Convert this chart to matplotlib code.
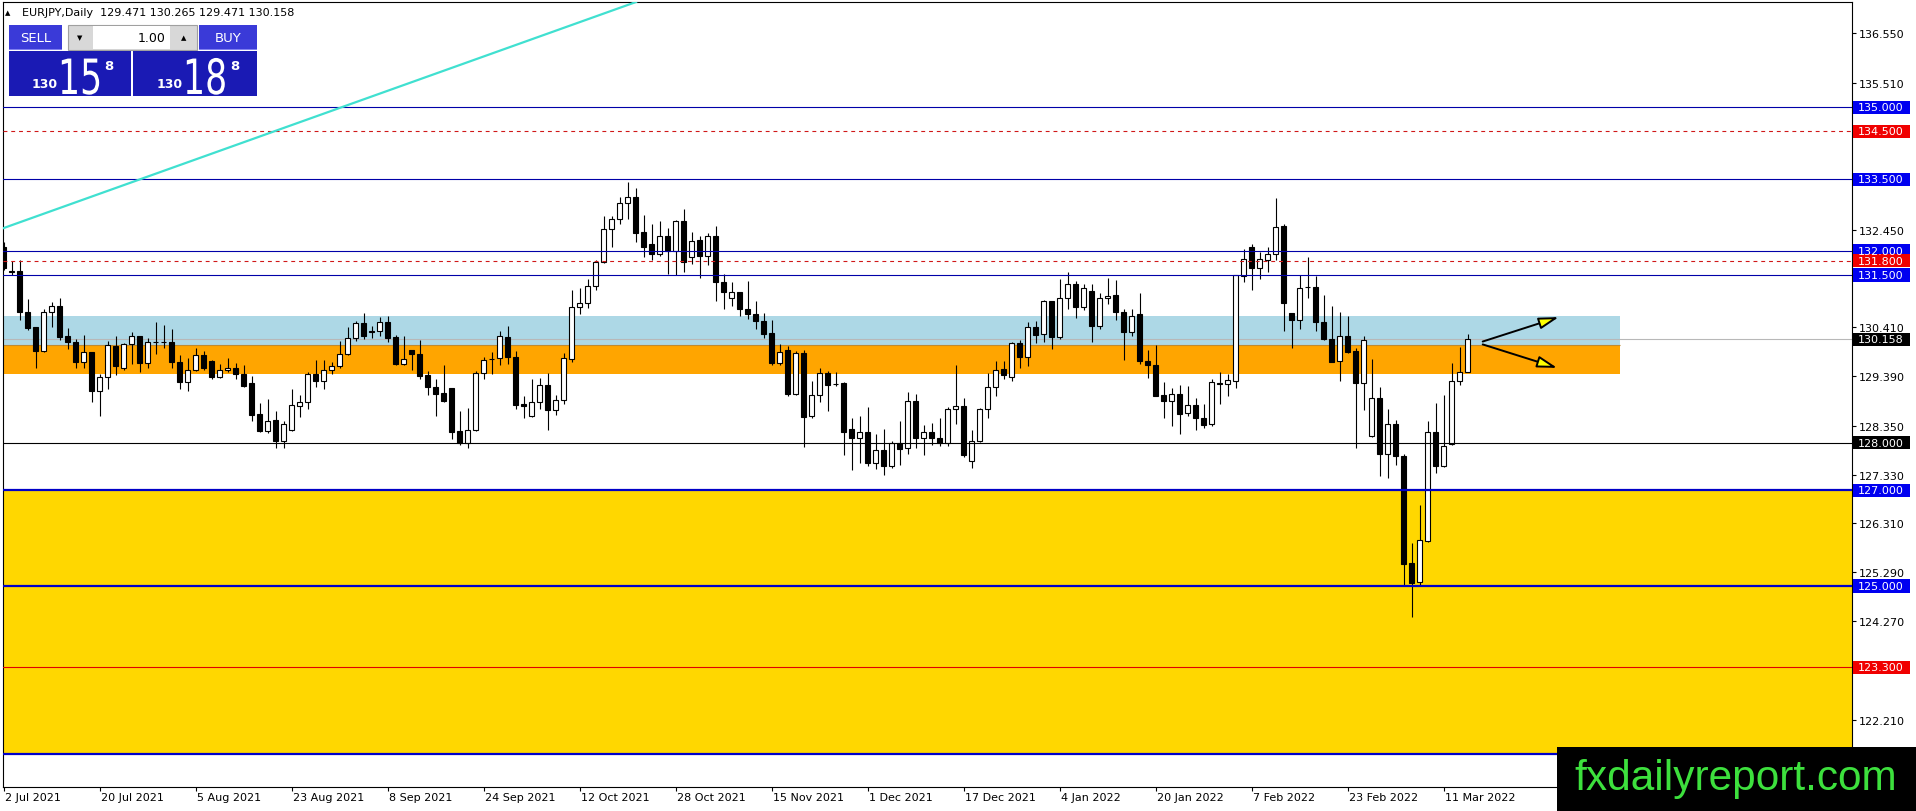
"""
EURJPY daily candles with support / resistance levels and zones,
drawn the way the MT4 terminal shows them.
"""
import numpy as np
import matplotlib
matplotlib.use("Agg")
import matplotlib.pyplot as plt
from matplotlib.patches import Rectangle
from matplotlib.transforms import blended_transform_factory, ScaledTranslation, Affine2D
from matplotlib import patheffects

W, H = 1916, 812

# daily OHLC, 2 Jul 2021 .. 16 Mar 2022
opens = [
    132.08, 131.57, 131.58, 130.72, 130.41, 129.92, 130.72, 130.85, 130.22, 130.11,
    129.68, 129.89, 129.07, 129.36, 130.01, 129.56, 130.05, 130.22, 129.66, 130.09,
    130.10, 130.09, 129.68, 129.27, 129.52, 129.83, 129.70, 129.36, 129.51, 129.55,
    129.44, 129.24, 128.59, 128.25, 128.47, 128.04, 128.27, 128.77, 128.84, 129.43,
    129.29, 129.51, 129.59, 129.84, 130.18, 130.50, 130.32, 130.32, 130.51, 130.20,
    129.64, 129.93, 129.85, 129.41, 129.17, 129.04, 129.14, 128.24, 128.00, 128.26,
    129.45, 129.74, 129.76, 130.20, 129.78, 128.80, 128.55, 128.84, 129.20, 128.69,
    128.88, 129.75, 130.83, 130.91, 131.26, 131.77, 132.46, 132.66, 133.00, 133.12,
    132.39, 132.14, 131.93, 132.31, 132.00, 132.62, 131.87, 132.23, 131.89, 132.32,
    131.36, 131.01, 131.14, 130.80, 130.69, 130.53, 130.29, 129.66, 129.93, 129.01,
    129.87, 128.56, 129.00, 129.45, 129.22, 129.24, 128.28, 128.10, 128.23, 127.57,
    127.84, 127.50, 128.00, 127.88, 128.87, 128.10, 128.23, 128.09, 128.00, 128.71,
    128.77, 127.62, 128.04, 128.70, 129.15, 129.54, 129.36, 130.07, 129.78, 130.41,
    130.26, 130.95, 130.21, 131.01, 131.31, 130.83, 131.16, 130.43, 131.01, 131.08,
    130.72, 130.30, 130.69, 129.70, 129.62, 128.99, 128.86, 129.01, 128.61, 128.78,
    128.51, 128.38, 129.245, 129.22, 129.29, 131.47, 132.09, 131.64, 131.82, 131.94,
    132.53, 130.71, 130.57, 131.24, 131.24, 130.51, 130.16, 129.70, 130.23, 129.92,
    129.24, 128.13, 128.94, 127.77, 128.39, 127.71, 125.48, 125.08, 125.95, 128.23,
    127.52, 127.96, 129.28, 129.471,
]
highs = [
    132.18, 131.80, 131.81, 131.00, 130.42, 130.80, 130.93, 131.03, 130.39, 130.16,
    130.25, 129.90, 129.43, 130.13, 130.23, 130.07, 130.30, 130.23, 130.18, 130.51,
    130.46, 130.37, 129.83, 129.76, 129.97, 129.92, 129.73, 129.64, 129.76, 129.66,
    129.62, 129.38, 128.82, 128.91, 128.66, 128.46, 129.11, 128.99, 129.48, 129.73,
    129.72, 129.69, 130.13, 130.41, 130.53, 130.71, 130.43, 130.62, 130.65, 130.25,
    130.22, 129.94, 130.14, 129.50, 129.33, 129.62, 129.14, 128.66, 128.72, 129.50,
    129.79, 129.89, 130.32, 130.44, 129.91, 128.98, 129.33, 129.34, 129.45, 128.99,
    129.87, 131.19, 131.23, 131.42, 131.82, 132.73, 132.73, 133.14, 133.45, 133.31,
    132.75, 132.57, 132.63, 132.48, 132.65, 132.88, 132.39, 132.32, 132.38, 132.52,
    131.52, 131.36, 131.14, 131.38, 130.95, 130.71, 130.56, 130.06, 130.02, 129.91,
    129.94, 129.29, 129.55, 129.50, 129.47, 129.27, 128.51, 128.55, 128.74, 128.18,
    128.28, 128.04, 128.44, 129.05, 129.01, 128.36, 128.41, 128.51, 128.74, 129.61,
    128.92, 128.26, 128.72, 129.45, 129.70, 129.71, 130.11, 130.15, 130.51, 130.53,
    130.98, 130.95, 131.42, 131.56, 131.38, 131.31, 131.31, 131.12, 131.44, 131.40,
    130.80, 130.78, 131.12, 129.93, 130.04, 129.26, 129.13, 129.20, 129.19, 128.94,
    128.81, 129.33, 129.48, 129.43, 131.50, 132.04, 132.15, 131.99, 132.09, 133.10,
    132.57, 130.71, 131.49, 131.87, 131.47, 131.08, 130.85, 130.72, 130.65, 129.97,
    130.23, 129.75, 129.17, 128.71, 128.47, 127.77, 125.90, 126.70, 128.44, 128.83,
    128.99, 129.66, 130.00, 130.265,
]
lows = [
    131.60, 131.50, 130.57, 130.36, 129.56, 129.89, 130.41, 130.15, 129.95, 129.56,
    129.56, 128.84, 128.55, 129.12, 129.41, 129.52, 129.64, 129.48, 129.55, 129.85,
    129.97, 129.55, 129.12, 129.08, 129.50, 129.52, 129.33, 129.34, 129.47, 129.33,
    129.17, 128.44, 128.21, 128.20, 127.88, 127.89, 128.25, 128.54, 128.70, 129.17,
    129.11, 129.43, 129.56, 129.82, 130.13, 130.16, 130.18, 130.23, 130.11, 129.61,
    129.63, 129.52, 129.33, 128.99, 128.55, 128.84, 128.07, 127.94, 127.88, 128.25,
    129.33, 129.43, 129.61, 129.64, 128.70, 128.51, 128.54, 128.71, 128.27, 128.58,
    128.80, 129.69, 130.69, 130.81, 131.19, 131.75, 132.09, 132.57, 132.67, 132.20,
    131.87, 131.81, 131.90, 131.52, 131.50, 131.56, 131.73, 131.43, 131.70, 130.96,
    130.78, 130.85, 130.64, 130.58, 130.37, 130.18, 129.63, 129.61, 128.98, 128.99,
    127.91, 128.51, 128.85, 128.65, 129.19, 127.74, 127.43, 127.57, 127.52, 127.45,
    127.32, 127.46, 127.54, 127.76, 127.88, 127.74, 127.95, 127.93, 127.93, 128.39,
    127.69, 127.46, 128.02, 128.51, 128.98, 129.33, 129.29, 129.56, 129.59, 130.07,
    130.11, 129.95, 130.16, 130.78, 130.60, 130.76, 130.11, 130.37, 130.89, 130.57,
    129.73, 130.23, 129.64, 129.34, 128.97, 128.51, 128.35, 128.18, 128.56, 128.27,
    128.30, 128.35, 128.81, 128.98, 129.13, 131.36, 131.19, 131.42, 131.57, 131.82,
    130.34, 129.98, 130.37, 131.03, 130.32, 130.15, 129.68, 129.29, 129.88, 127.88,
    128.67, 128.12, 127.31, 127.25, 127.53, 125.02, 124.35, 125.02, 125.93, 127.36,
    127.48, 127.95, 129.21, 129.471,
]
closes = [
    131.64, 131.575, 130.72, 130.39, 129.92, 130.72, 130.85, 130.21, 130.09, 129.68,
    129.89, 129.07, 129.36, 130.04, 129.59, 130.05, 130.22, 129.66, 130.09, 130.10,
    130.09, 129.68, 129.27, 129.52, 129.83, 129.55, 129.36, 129.52, 129.55, 129.43,
    129.19, 128.58, 128.25, 128.44, 128.04, 128.38, 128.78, 128.84, 129.43, 129.29,
    129.52, 129.59, 129.84, 130.18, 130.50, 130.23, 130.31, 130.51, 130.18, 129.64,
    129.74, 129.84, 129.40, 129.17, 129.01, 128.86, 128.23, 128.00, 128.26, 129.46,
    129.72, 129.75, 130.22, 129.78, 128.78, 128.76, 128.84, 129.20, 128.69, 128.88,
    129.76, 130.83, 130.91, 131.28, 131.77, 132.46, 132.67, 133.01, 133.12, 132.38,
    132.09, 131.93, 132.31, 132.00, 132.62, 131.77, 132.22, 131.89, 132.32, 131.36,
    131.14, 131.14, 130.80, 130.68, 130.53, 130.27, 129.66, 129.90, 129.01, 129.87,
    128.54, 129.00, 129.45, 129.21, 129.23, 128.23, 128.10, 128.23, 127.57, 127.84,
    127.52, 128.00, 127.87, 128.87, 128.10, 128.23, 128.09, 128.00, 128.71, 128.76,
    127.73, 128.04, 128.71, 129.15, 129.52, 129.42, 130.07, 129.78, 130.41, 130.25,
    130.95, 130.21, 131.01, 131.31, 130.83, 131.23, 130.43, 131.01, 131.07, 130.72,
    130.30, 130.65, 129.71, 129.61, 128.98, 128.87, 129.01, 128.60, 128.78, 128.51,
    128.37, 129.26, 129.225, 129.31, 131.49, 131.84, 131.64, 131.84, 131.94, 132.50,
    130.92, 130.55, 131.22, 131.25, 130.51, 130.16, 129.69, 130.23, 129.90, 129.24,
    130.15, 128.94, 127.77, 128.39, 127.71, 125.46, 125.06, 125.96, 128.23, 127.52,
    127.93, 129.28, 129.47, 130.158,
]

ask = 130.188
date_labels = ["2 Jul 2021", "20 Jul 2021", "5 Aug 2021", "23 Aug 2021", "8 Sep 2021",
               "24 Sep 2021", "12 Oct 2021", "28 Oct 2021", "15 Nov 2021", "1 Dec 2021",
               "17 Dec 2021", "4 Jan 2022", "20 Jan 2022", "7 Feb 2022", "23 Feb 2022",
               "11 Mar 2022"]
date_step = 12
price_ticks = [136.55, 135.51, 132.45, 130.41, 129.39, 128.35, 127.33, 126.31,
               125.29, 124.27, 122.21]

blue_levels = [135.0, 133.5, 132.0, 131.5]
blue_thick_levels = [127.0, 125.0, 121.5]
red_dash_levels = [134.5, 131.8]
red_level = 123.3
black_level = 128.0

blue_zone = (130.04, 130.65)
orange_zone = (129.44, 130.04)
yellow_zone = (121.5, 127.0)
zone_end = 202

trend_pts = [(0, 132.48), (79, 137.20)]
arrow_up = [(184.9, 130.11), (194.4, 130.62)]
arrow_down = [(184.9, 130.05), (194.2, 129.56)]

opens, highs, lows, closes = map(np.array, (opens, highs, lows, closes))
bid = closes[-1]
n = len(closes)
x = np.arange(n)

fig = plt.figure(figsize=(W / 100, H / 100), dpi=100)
fig.patch.set_facecolor("white")
ax = fig.add_axes([3 / W, 1 - 788 / H, 1849 / W, 785 / H])
ax.set_xlim(-0.0625, 231.06)
ax.set_ylim(120.803, 137.204)

# zones (background)
x0 = -0.0625
ax.add_patch(Rectangle((x0, blue_zone[0]), zone_end - x0, blue_zone[1] - blue_zone[0],
                       color="#add8e6", lw=0, zorder=1))
ax.add_patch(Rectangle((x0, orange_zone[0]), zone_end - x0, orange_zone[1] - orange_zone[0],
                       color="#ffa500", lw=0, zorder=1))
ax.hlines(orange_zone[1], x0, zone_end, color="#c08a30", lw=0.8, zorder=1.1)
ax.axhspan(yellow_zone[0], yellow_zone[1], color="#ffd700", lw=0, zorder=1)

# bid line
ax.axhline(bid, color="#b8b8b8", lw=0.8, zorder=2)

# candles
up = closes >= opens
ax.vlines(x, lows, highs, color="black", lw=0.8, zorder=3)
ax.bar(x, np.abs(closes - opens), bottom=np.minimum(opens, closes), width=0.6,
       color=np.where(up, "white", "black"), edgecolor="black", linewidth=0.8, zorder=3.1)

# levels
for lv in blue_levels:
    ax.axhline(lv, color="#0000a8", lw=0.8, zorder=4)
for lv in blue_thick_levels:
    ax.axhline(lv, color="#0000c8", lw=1.6, zorder=4)
for lv in red_dash_levels:
    ax.axhline(lv, color="#d01818", lw=0.8, dashes=(3.5, 3.5), zorder=4)
ax.axhline(red_level, color="#e00000", lw=0.8, zorder=4)
ax.axhline(black_level, color="black", lw=0.8, zorder=4)

# trend line and arrows
ax.axline(trend_pts[0], trend_pts[1], color="#40e0d0", lw=1.6, zorder=4)
for a in (arrow_up, arrow_down):
    ax.annotate("", xy=a[1], xytext=a[0],
                arrowprops=dict(arrowstyle="-|>,head_length=1.2,head_width=0.35",
                                fc="yellow", ec="black", lw=1.4, shrinkA=0, shrinkB=0,
                                mutation_scale=10), zorder=5)

# axes look
for s in ax.spines.values():
    s.set_color("black")
    s.set_linewidth(0.8)
ax.yaxis.tick_right()
ax.set_yticks(price_ticks)
ax.set_yticklabels([f"{v:.3f}" for v in price_ticks])
ax.tick_params(axis="y", length=2.9, width=0.8, pad=2.2, labelsize=8, colors="black")
ax.set_xticks(np.arange(len(date_labels)) * date_step)
ax.set_xticklabels(date_labels)
ax.tick_params(axis="x", length=2.9, width=0.8, pad=0.5, labelsize=8, colors="black")
shift = ScaledTranslation(0.01, 0, fig.dpi_scale_trans)
for lbl in ax.get_xticklabels():
    lbl.set_horizontalalignment("left")
    lbl.set_transform(lbl.get_transform() + shift)

# price labels on the right axis
trans = blended_transform_factory(ax.transAxes, ax.transData)
box_h = 13.4 / 47.86
labels = [(blue_levels[0], "#0000f0"), (red_dash_levels[0], "#f00000"),
          (blue_levels[1], "#0000f0"), (blue_levels[2], "#0000f0"),
          (red_dash_levels[1], "#f00000"), (blue_levels[3], "#0000f0"),
          (bid, "black"), (black_level, "black")] + \
         [(lv, "#0000f0") for lv in blue_thick_levels] + [(red_level, "#f00000")]
for lv, col in labels:
    ax.add_patch(Rectangle((1.0005, lv - box_h / 2), 0.0308, box_h, transform=trans,
                           color=col, lw=0, clip_on=False, zorder=6))
    ax.text(1.0031, lv, f"{lv:.3f}", transform=trans, color="white", fontsize=8,
            ha="left", va="center", clip_on=False, zorder=7)


def px_rect(x0, y0, x1, y1, **kw):
    fig.add_artist(Rectangle((x0 / W, 1 - y1 / H), (x1 - x0) / W, (y1 - y0) / H,
                             transform=fig.transFigure, zorder=kw.pop("zorder", 10), **kw))


def px_text(x, y, s, **kw):
    return fig.text(x / W, 1 - y / H, s, zorder=12, **kw)


class TallDigits(patheffects.AbstractPathEffect):
    """Stretch glyphs upward from the baseline (the terminal uses a narrow face)."""

    def __init__(self, sy, origin):
        super().__init__()
        self.sy, self.origin = sy, origin

    def draw_path(self, renderer, gc, tpath, affine, rgbFace=None):
        ox, oy = self.origin
        t = affine + Affine2D().translate(-ox, -oy).scale(1, self.sy).translate(ox, oy)
        renderer.draw_path(gc, tpath, t, rgbFace)


# header line
px_text(5, 13, "\u25b2", fontsize=5, va="center")
px_text(22, 13, f"EURJPY,Daily  {opens[-1]:.3f} {highs[-1]:.3f} {lows[-1]:.3f} {closes[-1]:.3f}",
        fontsize=8, va="center")

# one-click trading panel
px_rect(9, 26, 62, 51, facecolor="#3a3ad8", lw=0)
px_rect(199, 26, 257, 51, facecolor="#3a3ad8", lw=0)
px_rect(9, 50, 62, 51, facecolor="#8080f0", lw=0, zorder=11)
px_rect(199, 50, 257, 51, facecolor="#8080f0", lw=0, zorder=11)
px_text(35.5, 38.5, "SELL", color="white", fontsize=9.5, ha="center", va="center")
px_text(228, 38.5, "BUY", color="white", fontsize=9.5, ha="center", va="center")
px_rect(68, 26, 197, 51, facecolor="#d8d8d8", edgecolor="#a0a0a0", lw=0.8)
px_rect(93, 27, 170, 50, facecolor="white", lw=0, zorder=11)
px_text(80, 38.5, "\u25bc", fontsize=5, ha="center", va="center")
px_text(184, 38.5, "\u25b2", fontsize=5, ha="center", va="center")
px_text(166, 38.5, "1.00", fontsize=9, ha="right", va="center")
px_rect(9, 52, 131, 97, facecolor="#1a1ab4", lw=0)
px_rect(133, 52, 257, 97, facecolor="#1a1ab4", lw=0)

for price, x_small, x_big, x_sup in ((bid, 32, 58, 104), (ask, 157, 183, 230)):
    s = f"{price:.3f}"
    px_text(x_small, 88, s[:3], color="white", fontsize=9, fontweight="bold", va="baseline")
    t = px_text(x_big, 95, s[4:6], color="white", fontsize=25, va="baseline")
    t.set_path_effects([TallDigits(1.4, (x_big, H - 95))])
    px_text(x_sup, 60, s[6], color="white", fontsize=9.5, fontweight="bold", va="top")

# watermark
px_rect(1557, 748, 1916, 812, facecolor="black", lw=0, zorder=13)
fig.text(1736 / W, 1 - 790 / H, "fxdailyreport.com", color="#3de03d", fontsize=30.5,
         family="Liberation Sans", ha="center", va="baseline", zorder=14)

fig.savefig("out.png", dpi=100, facecolor="white")
